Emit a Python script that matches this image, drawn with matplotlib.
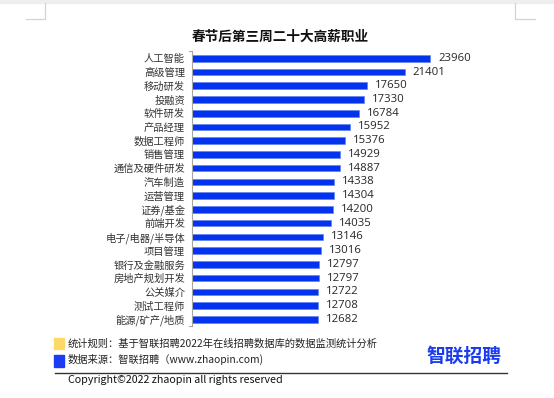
import matplotlib
matplotlib.use("Agg")
import matplotlib.pyplot as plt
from matplotlib.patches import Rectangle
from matplotlib.lines import Line2D

plt.rcParams['font.family'] = ['Noto Sans CJK SC', 'DejaVu Sans']

categories = ["人工智能", "高级管理", "移动研发", "投融资", "软件研发", "产品经理", "数据工程师",
              "销售管理", "通信及硬件研发", "汽车制造", "运营管理", "证券/基金", "前端开发",
              "电子/电器/半导体", "项目管理", "银行及金融服务", "房地产规划开发", "公关媒介",
              "测试工程师", "能源/矿产/地质"]
salaries = [23960, 21401, 17650, 17330, 16784, 15952, 15376, 14929, 14887, 14338,
            14304, 14200, 14035, 13146, 13016, 12797, 12797, 12722, 12708, 12682]
title = "春节后第三周二十大高薪职业"
note1 = "统计规则：基于智联招聘2022年在线招聘数据库的数据监测统计分析"
note2 = "数据来源：智联招聘（www.zhaopin.com)"
copyright_text = "Copyright©2022 zhaopin all rights reserved"
logo = "智联招聘"

W, H = 554, 398
fig = plt.figure(figsize=(W / 100, H / 100), dpi=100)

def fx(px):
    return px / W

def fy(py):
    return 1 - py / H

# page decorations
fig.patches.append(Rectangle((0, fy(2.5)), 1, 2.5 / H, transform=fig.transFigure,
                             color="#eeeeee", zorder=0))
for (xs, ys) in [((26, 45, 45), (19.3, 19.3, 2.5)), ((535, 515, 515), (19.3, 19.3, 2.5))]:
    fig.add_artist(Line2D([fx(x) for x in xs], [fy(y) for y in ys], color="#d4d4d4", lw=0.9))

# axes
ax_left, ax_right = 192, 520
ax_top, ax_bot = 51.4, 326.2
ax = fig.add_axes([fx(ax_left), fy(ax_bot), fx(ax_right - ax_left), (ax_bot - ax_top) / H])
scale = (430 - 318) / (23960 - 12682)  # px per unit
ax.set_xlim(0, (ax_right - ax_left) / scale)
n = len(categories)
ax.set_ylim(n - 0.5, -0.5)
ypos = list(range(n))
ax.barh(ypos, salaries, height=0.48, color="#0433F0", edgecolor="#5a7cf5", linewidth=0.4)
for y, v in zip(ypos, salaries):
    ax.text(v + 8 / scale, y, f"{v}", va="center", ha="left", fontsize=8.2,
            family=["Open Sans", "DejaVu Sans"], color="#262626")
ax.set_yticks(ypos)
ax.set_yticklabels(categories, fontsize=7.4, color="#333333")
ax.tick_params(axis="y", length=0, pad=5)
ax.set_xticks([])
for s in ["top", "right", "bottom"]:
    ax.spines[s].set_visible(False)
ax.spines["left"].set_color("#a6a6a6")
ax.spines["left"].set_linewidth(0.8)
# end ticks
for yv in [-0.5, n - 0.5]:
    ax.plot([-3 / scale, 0], [yv, yv], color="#a6a6a6", lw=0.8, clip_on=False)

fig.text(fx(280), fy(37), title, ha="center", va="center", fontsize=9.8,
         fontweight="bold", color="#111111")

# legend / notes
fig.patches.append(Rectangle((fx(54), fy(349)), fx(10), 11 / H, transform=fig.transFigure,
                             color="#FFD966"))
fig.patches.append(Rectangle((fx(54), fy(367)), fx(10), 12 / H, transform=fig.transFigure,
                             color="#1a3cf5"))
fig.text(fx(68), fy(344), note1, ha="left", va="center", fontsize=7.4, color="#222222")
fig.text(fx(68), fy(359.5), note2, ha="left", va="center", fontsize=7.4, color="#222222")
fig.text(fx(464), fy(356), logo, ha="center", va="center", fontsize=13.5,
         fontweight="bold", color="#1a3cf0")
fig.add_artist(Line2D([fx(55), fx(507)], [fy(373), fy(373)], color="#333333", lw=1.0))
fig.text(fx(68), fy(380), copyright_text, ha="left", va="center", fontsize=7.7, color="#111111")

fig.savefig("out.png", dpi=100)
